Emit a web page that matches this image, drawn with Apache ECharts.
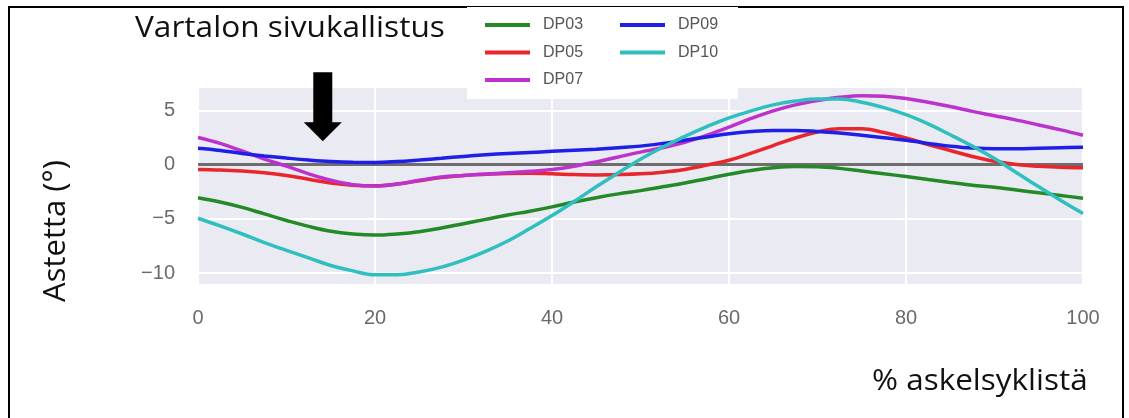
<!DOCTYPE html>
<html>
<head>
<meta charset="utf-8">
<script src="https://cdn.jsdelivr.net/npm/echarts@6/dist/echarts.min.js"></script>
<style>
  html, body { margin: 0; padding: 0; background: #ffffff; }
  #chart { width: 1129px; height: 418px; }
</style>
</head>
<body>
<div id="chart"></div>
<script>
// Trunk lateral tilt over the gait cycle, five subjects (degrees)
const gaitPct = [0, 2.5, 5, 7.5, 10, 12.5, 15, 17.5, 20, 22.5, 25, 27.5, 30, 32.5, 35, 37.5, 40, 42.5, 45, 47.5,
  50, 52.5, 55, 57.5, 60, 62.5, 65, 67.5, 70, 72.5, 75, 77.5, 80, 82.5, 85, 87.5, 90, 92.5, 95, 97.5, 100];
const dp03 = [-3.05, -3.45, -3.95, -4.55, -5.15, -5.7, -6.15, -6.4, -6.5, -6.4, -6.2, -5.85, -5.45, -5.05, -4.65, -4.3, -3.9, -3.45, -3.05, -2.7,
  -2.4, -2.05, -1.7, -1.3, -0.9, -0.55, -0.3, -0.18, -0.2, -0.35, -0.6, -0.85, -1.1, -1.38, -1.65, -1.9, -2.1, -2.35, -2.6, -2.85, -3.1];
const dp05 = [-0.45, -0.5, -0.6, -0.75, -1.0, -1.35, -1.7, -1.9, -1.95, -1.8, -1.5, -1.2, -1.0, -0.9, -0.82, -0.8, -0.85, -0.92, -0.95, -0.92,
  -0.85, -0.7, -0.45, -0.05, 0.4, 1.05, 1.75, 2.45, 3.0, 3.3, 3.3, 2.95, 2.45, 1.85, 1.3, 0.75, 0.3, 0.0, -0.15, -0.25, -0.3];
const dp07 = [2.5, 1.95, 1.25, 0.5, -0.15, -0.85, -1.45, -1.85, -1.97, -1.8, -1.45, -1.15, -1.0, -0.88, -0.75, -0.62, -0.45, -0.15, 0.25, 0.7,
  1.15, 1.55, 2.05, 2.7, 3.45, 4.25, 4.95, 5.5, 5.9, 6.2, 6.35, 6.3, 6.1, 5.75, 5.35, 4.9, 4.5, 4.1, 3.65, 3.2, 2.7];
const dp09 = [1.5, 1.3, 1.03, 0.8, 0.6, 0.42, 0.28, 0.21, 0.2, 0.28, 0.42, 0.58, 0.75, 0.9, 1.02, 1.12, 1.22, 1.32, 1.42, 1.55,
  1.7, 1.95, 2.25, 2.55, 2.85, 3.05, 3.15, 3.15, 3.05, 2.9, 2.7, 2.48, 2.25, 1.95, 1.7, 1.52, 1.45, 1.45, 1.5, 1.55, 1.6];
const dp10 = [-4.95, -5.65, -6.4, -7.2, -7.9, -8.6, -9.3, -9.8, -10.15, -10.15, -9.9, -9.45, -8.8, -8.0, -7.05, -5.9, -4.7, -3.4, -2.05, -0.75,
  0.5, 1.6, 2.6, 3.5, 4.3, 4.95, 5.5, 5.85, 6.05, 6.05, 5.75, 5.25, 4.6, 3.75, 2.75, 1.7, 0.55, -0.75, -2.05, -3.3, -4.5];
const zeroRef = [0, 0];

const seriesNames = ['DP03', 'DP05', 'DP07', 'DP09', 'DP10'];
const seriesValues = [dp03, dp05, dp07, dp09, dp10];
const seriesColors = ['#248a28', '#e8262b', '#bd32cc', '#1f1fe6', '#2fbfbf'];

const xTicks = [0, 20, 40, 60, 80, 100];
const yTicks = [-10, -5, 0, 5];

const titleText = 'Vartalon sivukallistus';
const yTitle = 'Astetta (°)';
const xTitle = '% askelsyklistä';

const chart = echarts.init(document.getElementById('chart'), null, { renderer: 'canvas' });

const pairs = vals => gaitPct.map((x, i) => [x, vals[i]]);

const lineSeries = seriesNames.map((name, i) => ({
  name: name,
  type: 'line',
  data: pairs(seriesValues[i]),
  smooth: 0.4,
  showSymbol: false,
  symbol: 'none',
  z: 3,
  lineStyle: { color: seriesColors[i], width: 3.5 },
  itemStyle: { color: seriesColors[i] },
  emphasis: { disabled: true },
  animation: false
}));

const zeroSeries = {
  name: 'zero',
  type: 'line',
  data: [[gaitPct[0], zeroRef[0]], [gaitPct[gaitPct.length - 1], zeroRef[1]]],
  showSymbol: false,
  symbol: 'none',
  z: 2,
  lineStyle: { color: '#6e6e6e', width: 3 },
  emphasis: { disabled: true },
  animation: false
};

const legendCommon = {
  orient: 'vertical',
  top: 16,
  padding: 0,
  itemGap: 9.5,
  itemWidth: 45,
  itemHeight: 4,
  icon: 'rect',
  z: 10,
  selectedMode: false,
  textStyle: {
    fontFamily: 'Liberation Sans',
    fontSize: 16,
    color: '#555555',
    lineHeight: 18,
    padding: [0, 0, 0, 8]
  }
};

chart.setOption({
  animation: false,
  backgroundColor: '#ffffff',
  grid: {
    left: 198, right: 46, top: 87, bottom: 133,
    show: true, backgroundColor: '#EAEAF2', borderWidth: 0
  },
  legend: [
    Object.assign({ left: 485, data: seriesNames.slice(0, 3) }, legendCommon),
    Object.assign({ left: 620, data: seriesNames.slice(3) }, legendCommon)
  ],
  xAxis: {
    type: 'value',
    min: xTicks[0],
    max: xTicks[xTicks.length - 1],
    interval: 20,
    axisLine: { show: false },
    axisTick: { show: false },
    splitLine: { show: true, lineStyle: { color: '#ffffff', width: 2 } },
    axisLabel: {
      margin: 23,
      fontFamily: 'Liberation Sans',
      fontSize: 20,
      color: '#6a6a6a'
    }
  },
  yAxis: {
    type: 'value',
    min: -11.1,
    max: 7.15,
    splitNumber: 4,
    minInterval: 5,
    maxInterval: 5,
    axisLine: { show: false },
    axisTick: { show: false },
    splitLine: { show: true, lineStyle: { color: '#ffffff', width: 2 } },
    axisLabel: {
      margin: 23,
      fontFamily: 'Liberation Sans',
      fontSize: 20,
      color: '#6a6a6a',
      showMinLabel: false,
      showMaxLabel: false,
      formatter: v => yTicks.indexOf(Math.round(v)) >= 0 && Math.abs(v - Math.round(v)) < 1e-6
        ? String(v).replace('-', '\u2212') : ''
    }
  },
  series: [zeroSeries].concat(lineSeries)
});

// Arrow pointing at the early-stance dip, anchored in data coordinates
const tip = chart.convertToPixel({ gridIndex: 0 }, [14.1, 2.15]);
const tail = chart.convertToPixel({ gridIndex: 0 }, [14.1, 8.5]);
const ax = tip[0], ay = tip[1], ty = tail[1];

chart.setOption({
  graphic: [
    {
      type: 'rect', z: 1,
      shape: { x: 9, y: 7, width: 1114, height: 430 },
      style: { fill: 'none', stroke: '#000000', lineWidth: 2 }
    },
    {
      type: 'rect', z: 5,
      shape: { x: 467, y: 7, width: 271, height: 92 },
      style: { fill: '#ffffff' }
    },
    {
      type: 'polygon', z: 6,
      shape: {
        points: [
          [ax - 9.5, ty], [ax + 9.5, ty], [ax + 9.5, ay - 19],
          [ax + 19, ay - 19], [ax, ay], [ax - 19, ay - 19], [ax - 9.5, ay - 19]
        ]
      },
      style: { fill: '#000000' }
    },
    {
      type: 'text', z: 6, x: 135, y: 14, scaleX: 1.09,
      style: {
        text: titleText, fontFamily: 'Open Sans', fontSize: 29,
        fill: '#111111', verticalAlign: 'top'
      }
    },
    {
      type: 'text', z: 6, x: 56, y: 231, rotation: Math.PI / 2,
      style: {
        text: yTitle, fontFamily: 'Open Sans', fontSize: 31,
        fill: '#111111', align: 'center', verticalAlign: 'middle'
      }
    },
    {
      type: 'text', z: 6, x: 872, y: 367, scaleX: 1.085,
      style: {
        text: xTitle, fontFamily: 'Open Sans', fontSize: 29,
        fill: '#111111', verticalAlign: 'top'
      }
    }
  ]
});
</script>
</body>
</html>
